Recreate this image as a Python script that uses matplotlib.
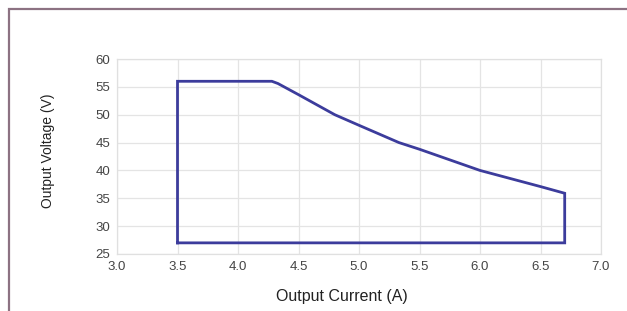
import matplotlib
matplotlib.use("Agg")
import matplotlib.pyplot as plt
from matplotlib.patches import Rectangle

# Operating area boundary (current in A, voltage in V)
current = [3.5, 3.5, 4.28, 4.33, 4.5, 4.8, 5.0, 5.33, 5.5, 6.0, 6.5, 6.7, 6.7, 3.5]
voltage = [27, 56, 56, 55.6, 53.6, 50, 48.1, 45, 43.8, 40, 37.1, 35.9, 27, 27]

x_ticks = [3.0, 3.5, 4.0, 4.5, 5.0, 5.5, 6.0, 6.5, 7.0]
y_ticks = [25, 30, 35, 40, 45, 50, 55, 60]

plt.rcParams['font.family'] = ['Liberation Sans', 'DejaVu Sans']

fig = plt.figure(figsize=(6.27, 3.11), dpi=100)
ax = fig.add_axes([117 / 627, 1 - 254 / 311, 484 / 627, 195 / 311])

# outer frame (only left and top edges are visible in the crop)
fig.patches.append(Rectangle((8.5 / 627, -0.1), 1.2, (1 - 8.5 / 311) + 0.1,
                             transform=fig.transFigure, fill=False,
                             edgecolor='#8c7282', linewidth=1.6))

ax.plot(current, voltage, color='#3c3c9c', linewidth=2.0, solid_joinstyle='miter')

ax.set_xlim(3.0, 7.0)
ax.set_ylim(25, 60)
ax.set_xticks(x_ticks)
ax.set_yticks(y_ticks)
ax.set_xticklabels([f'{v:.1f}' for v in x_ticks])
ax.grid(True, color='#e4e4e4', linewidth=0.9)
ax.set_axisbelow(True)
for s in ax.spines.values():
    s.set_color('#e0e0e0')
    s.set_linewidth(0.9)
ax.tick_params(length=0, labelsize=9.5, colors='#444444', pad=5)

ax.set_xlabel('Output Current (A)', fontsize=11.5, color='#222222')
ax.set_ylabel('Output Voltage (V)', fontsize=10, color='#222222')
ax.xaxis.set_label_coords(0.465, -0.22)
ax.yaxis.set_label_coords(-0.143, 0.53)
ax.xaxis.label.set_va('center')
ax.yaxis.label.set_va('center')

fig.savefig('out.png', dpi=100)
